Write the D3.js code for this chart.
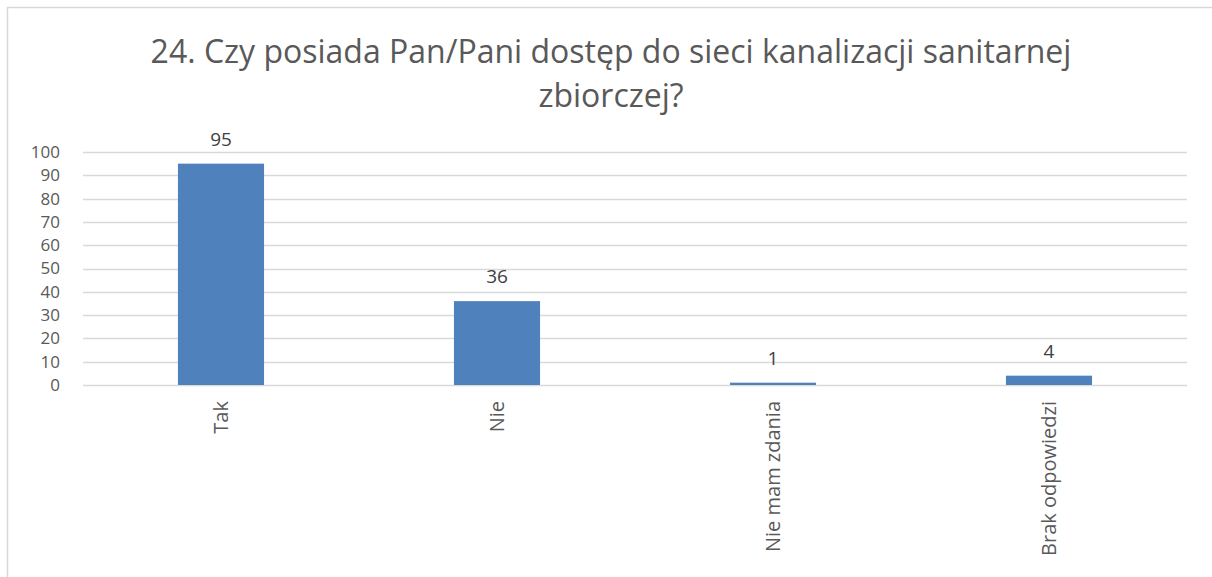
<!DOCTYPE html>
<html><head><meta charset="utf-8">
<script src="https://cdn.jsdelivr.net/npm/d3@7"></script>
<style>body{margin:0;background:#fff}svg{display:block}</style>
</head><body>
<svg id="c" width="1212" height="577"></svg>
<script>
const categories = ["Tak", "Nie", "Nie mam zdania", "Brak odpowiedzi"];
const values = [95, 36, 1, 4];
const yTicks = [0, 10, 20, 30, 40, 50, 60, 70, 80, 90, 100];
const titleLines = ["24. Czy posiada Pan/Pani dostęp do sieci kanalizacji sanitarnej", "zbiorczej?"];

const svg = d3.select("#c");
const font = "'Open Sans', sans-serif";
svg.append("rect").attr("x", 7.5).attr("y", 7.5).attr("width", 1230).attr("height", 600)
  .attr("fill", "#fff").attr("stroke", "#d9d9d9").attr("stroke-width", 1.5);

const x = d3.scaleBand().domain(categories).range([83, 1187]);
const y = d3.scaleLinear().domain([0, 100]).range([385, 152]);

svg.append("g").selectAll("line").data(yTicks).join("line")
  .attr("x1", 83).attr("x2", 1187)
  .attr("y1", d => Math.round(y(d)) + 0.5).attr("y2", d => Math.round(y(d)) + 0.5)
  .attr("stroke", "#d9d9d9").attr("stroke-width", 1.3);

const ya = svg.append("g").attr("transform", "translate(60,0)")
  .call(d3.axisLeft(y).tickValues(yTicks).tickSize(0).tickPadding(0));
ya.select(".domain").remove();
ya.selectAll("text").attr("font-family", font).attr("font-size", 17).attr("fill", "#595959");

const bw = x.bandwidth() * 0.312;
svg.append("g").selectAll("rect").data(values).join("rect")
  .attr("x", (d, i) => x(categories[i]) + x.bandwidth() / 2 - bw / 2)
  .attr("width", bw)
  .attr("y", d => y(d))
  .attr("height", d => y(0) - y(d))
  .attr("fill", "#4f81bd");

svg.append("g").selectAll("text").data(values).join("text")
  .attr("x", (d, i) => x(categories[i]) + x.bandwidth() / 2)
  .attr("y", d => y(d) - 18)
  .attr("text-anchor", "middle")
  .attr("font-family", font).attr("font-size", 19).attr("fill", "#404040")
  .text(d => d);

const xa = svg.append("g").attr("transform", "translate(0,385)")
  .call(d3.axisBottom(x).tickSize(0).tickPadding(0));
xa.select(".domain").remove();
xa.selectAll("text")
  .attr("font-family", font).attr("font-size", 20).attr("fill", "#595959")
  .attr("transform", "rotate(-90)")
  .attr("x", -16).attr("y", 0).attr("dy", "0.35em")
  .attr("text-anchor", "end");

svg.append("g").selectAll("text").data(titleLines).join("text")
  .attr("x", 611).attr("y", (d, i) => 63 + i * 44)
  .attr("text-anchor", "middle")
  .attr("font-family", font).attr("font-size", 32).attr("fill", "#595959")
  .text(d => d);
</script>
</body></html>
